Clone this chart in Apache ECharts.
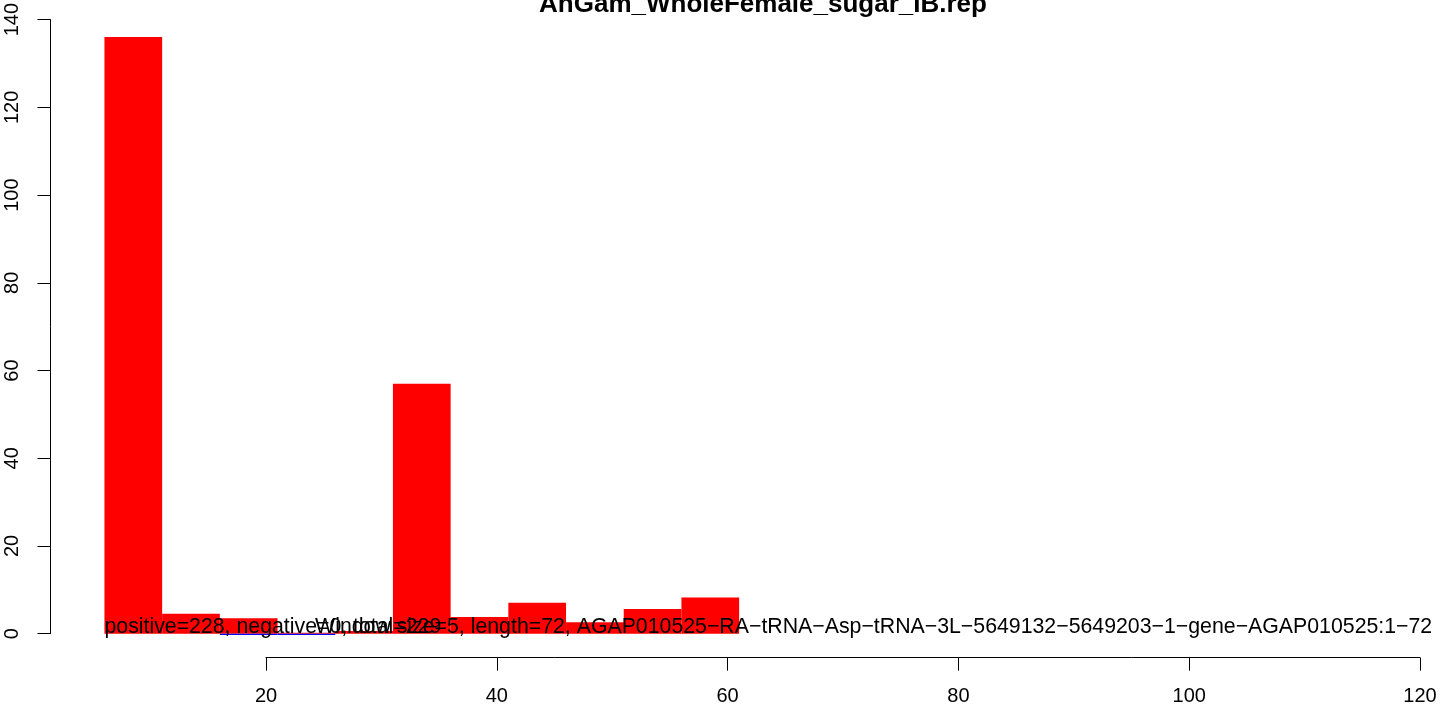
<!DOCTYPE html>
<html><head><meta charset="utf-8">
<script src="https://cdn.jsdelivr.net/npm/echarts@6/dist/echarts.min.js"></script>
<style>html,body{margin:0;padding:0;background:#fff}#c{width:1441px;height:709px}</style>
</head><body><div id="c"></div>
<script>
const chartTitle = 'AnGam_WholeFemale_sugar_IB.rep';
const binStarts = [6, 11, 16, 21, 26, 31, 36, 41, 46, 51, 56];
const binWidth = 5;
const positiveValues = [135.2, 4.5, 3.5, 0.2, 0.6, 56.6, 3.8, 7.0, 2.6, 5.6, 8.2];
const negativeValues = [0, 0, -0.3, -0.3, 0, 0, 0, 0, 0, 0, 0];
const xTicks = [20, 40, 60, 80, 100, 120];
const yTicks = [0, 20, 40, 60, 80, 100, 120, 140];
const noteLeft = 'positive=228, negative=0, total=229';
const noteRight = 'Window size=5, length=72, AGAP010525\u2212RA\u2212tRNA\u2212Asp\u2212tRNA\u22123L\u22125649132\u22125649203\u22121\u2212gene\u2212AGAP010525:1\u221272';

const FONT = 'Liberation Sans, Arial, Helvetica, sans-serif';
const chart = echarts.init(document.getElementById('c'));

function barRender(color) {
  return function (params, api) {
    const x0 = api.value(0), v = api.value(1);
    if (v === 0) return null;
    const p1 = api.coord([x0, v]);
    const p2 = api.coord([x0 + binWidth, 0]);
    const y = Math.min(p1[1], p2[1]);
    const h = Math.max(Math.abs(p2[1] - p1[1]), 1);
    return { type: 'rect', shape: { x: p1[0], y: y, width: p2[0] - p1[0], height: h }, style: { fill: color } };
  };
}

chart.setOption({
  animation: false,
  backgroundColor: '#fff',
  grid: [
    { left: 35.2, top: 15.7, width: 1384.8, height: 618 },
    { left: 50.5, top: 15.7, width: 10, height: 618 },
    { left: 266, top: 600, width: 1154, height: 57.7 }
  ],
  xAxis: [
    { gridIndex: 0, type: 'value', min: 0, max: 120, show: false },
    { gridIndex: 1, type: 'value', min: 0, max: 1, show: false },
    { gridIndex: 2, type: 'value', min: xTicks[0], max: xTicks[xTicks.length - 1], interval: 20,
      axisLine: { show: true, onZero: false, lineStyle: { color: '#000', width: 1 } },
      axisTick: { show: true, inside: false, length: 13, lineStyle: { color: '#000' } },
      axisLabel: { show: true, margin: 29, color: '#000', fontSize: 20, fontFamily: FONT },
      splitLine: { show: false } }
  ],
  yAxis: [
    { gridIndex: 0, type: 'value', min: 0, max: 140, show: false },
    { gridIndex: 1, type: 'value', min: yTicks[0], max: yTicks[yTicks.length - 1], interval: 20,
      axisLine: { show: true, lineStyle: { color: '#000', width: 1 } },
      axisTick: { show: true, inside: false, length: 13, lineStyle: { color: '#000' } },
      axisLabel: { show: true, rotate: 90, margin: 28, color: '#000', fontSize: 20, fontFamily: FONT },
      splitLine: { show: false } },
    { gridIndex: 2, type: 'value', min: 0, max: 1, show: false }
  ],
  series: [
    { type: 'custom', xAxisIndex: 0, yAxisIndex: 0, renderItem: barRender('#FF0000'),
      data: binStarts.map((s, i) => [s, positiveValues[i]]), z: 2 },
    { type: 'custom', xAxisIndex: 0, yAxisIndex: 0, renderItem: barRender('#0000FF'),
      data: binStarts.map((s, i) => [s, negativeValues[i]]), z: 2 },
    { type: 'custom', xAxisIndex: 0, yAxisIndex: 0, z: 5,
      data: [[6, 0, 0], [24.25, 0, 1]],
      renderItem: function (params, api) {
        const p = api.coord([api.value(0), api.value(1)]);
        const txt = api.value(2) === 0 ? noteLeft : noteRight;
        return { type: 'text', x: p[0], y: p[1] + 4,
          style: { text: txt, fill: '#000', font: '21.3px ' + FONT, align: 'left', verticalAlign: 'bottom' } };
      } }
  ],
  graphic: [
    { type: 'text', x: 763, y: 5, style: { text: chartTitle, fill: '#000', font: 'bold 26px ' + FONT, align: 'center', verticalAlign: 'middle' } }
  ]
});
</script></body></html>
